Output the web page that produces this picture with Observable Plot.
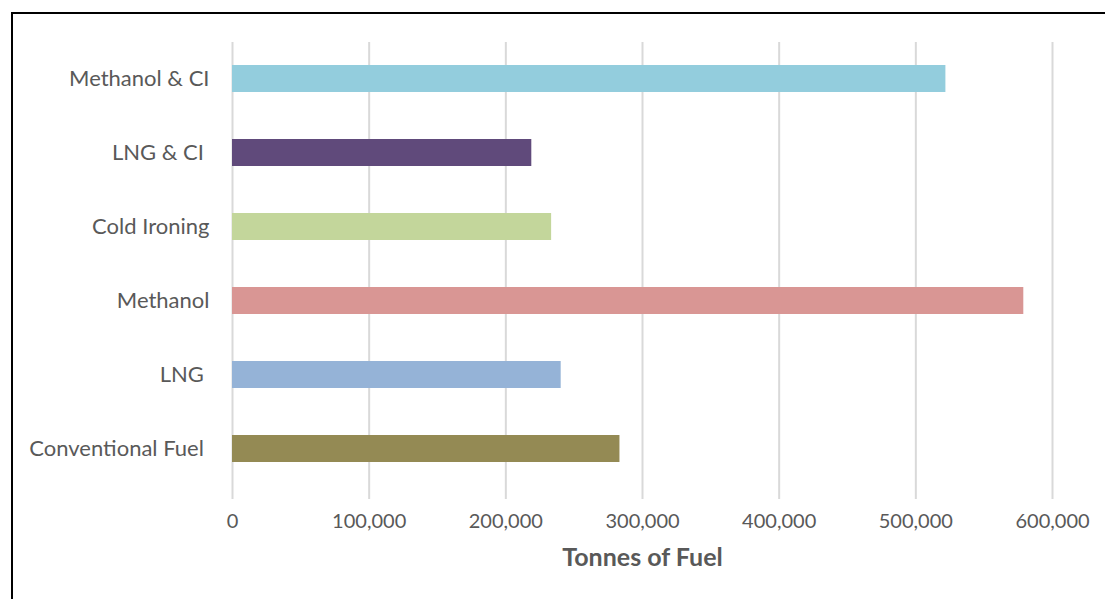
<!DOCTYPE html>
<html>
<head>
<meta charset="utf-8">
<script src="https://cdn.jsdelivr.net/npm/d3@7"></script>
<script src="https://cdn.jsdelivr.net/npm/@observablehq/plot@0.6"></script>
<style>
  html, body { margin: 0; padding: 0; background: #fff; overflow: hidden; }
  #wrap { position: relative; width: 1105px; height: 599px; }
  #frame { position: absolute; left: 11px; top: 12px; width: 1200px; height: 700px; border: 2px solid #000; box-sizing: border-box; pointer-events: none; }
  #chart { position: absolute; left: 0; top: 0; }
</style>
</head>
<body>
<div id="wrap"><div id="chart"></div><div id="frame"></div></div>
<script>
const categories = ["Methanol & CI", "LNG & CI ", "Cold Ironing", "Methanol", "LNG ", "Conventional Fuel "];
const values = [522000, 219000, 233500, 579000, 240500, 283500];
const colors = ["#93CDDD", "#604A7B", "#C3D69B", "#D99694", "#95B3D7", "#948A54"];
const xTicks = [0, 100000, 200000, 300000, 400000, 500000, 600000];
const xLabel = "Tonnes of Fuel";

const data = categories.map((c, i) => ({category: c, value: values[i], color: colors[i]}));
const font = "Lato, 'Open Sans', sans-serif";

const chart = Plot.plot({
  width: 1105,
  height: 599,
  marginLeft: 232,
  marginRight: 53,
  marginTop: 42,
  marginBottom: 100,
  style: {fontFamily: font, fontSize: "20px", color: "#595959", background: "#fff"},
  x: {domain: [0, 600000], ticks: xTicks, tickFormat: d3.format(",")},
  y: {domain: categories, range: [40, 487], paddingInner: 0.64, paddingOuter: 0.32},
  marks: [
    Plot.gridX(xTicks, {stroke: "#d9d9d9", strokeOpacity: 1, strokeWidth: 2}),
    Plot.barX(data, {y: "category", x: "value", fill: "color"}),
    Plot.axisX({ticks: xTicks, tickSize: 0, tickPadding: 14, tickFormat: d3.format(","), label: null, fill: "#595959", fontSize: 20}),
    Plot.axisY({tickSize: 0, tickPadding: 23, label: null, fill: "#595959", fontSize: 22}),
    Plot.text([xLabel], {frameAnchor: "bottom", dy: 66, text: d => d, fontWeight: "bold", fontSize: 25, fill: "#595959"})
  ]
});
document.getElementById("chart").appendChild(chart);
</script>
</body>
</html>
